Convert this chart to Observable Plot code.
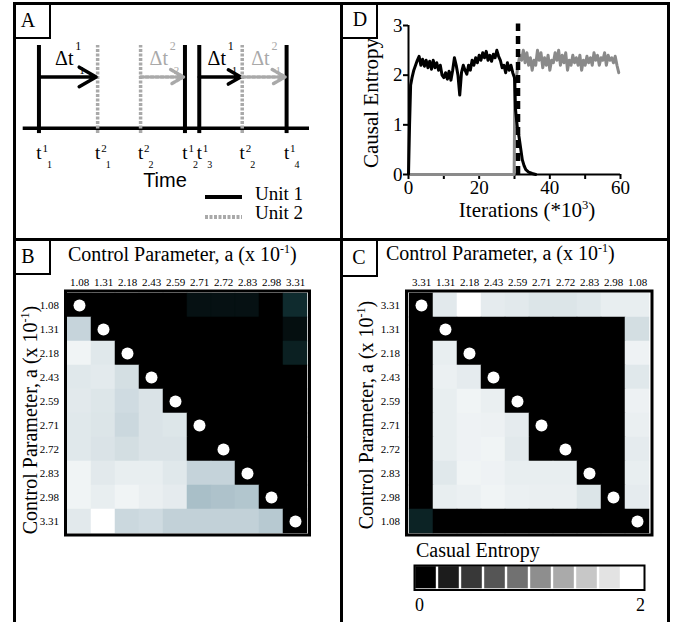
<!DOCTYPE html>
<html><head><meta charset="utf-8">
<script src="https://cdn.jsdelivr.net/npm/d3@7"></script>
<script src="https://cdn.jsdelivr.net/npm/@observablehq/plot@0.6"></script>
<style>
body{margin:0;background:#fff;}
#fig{position:relative;width:673px;height:622px;overflow:hidden;background:#fff;font-family:"Liberation Serif",serif;color:#000;}
.txt{position:absolute;white-space:nowrap;line-height:1;}
.ln{position:absolute;background:#000;}
.box{position:absolute;border:2px solid #000;box-sizing:border-box;}
sup{font-size:0.6em;vertical-align:super;line-height:0;}
</style></head><body><div id="fig"></div>
<script>
// ---------- DATA ----------
// Panel A: spike times (arbitrary time units)
const unit1Spikes = [0.55, 5.65, 6.15, 9.2];
const unit1Sub = ["1", "2", "3", "4"];
const unit2Spikes = [2.6, 4.1, 7.65];
const unit2Sub = ["1", "2", "2"];
const intervalFrom = [0.55, 4.1, 6.15, 7.65];
const intervalTo = [2.6, 5.65, 7.65, 9.2];
const intervalUnit = [1, 2, 1, 2];
const intervalSup = ["1", "2", "1", "2"];
const intervalSub = ["1", "2", "1", "1"];
const unitNames = ["Unit 1", "Unit 2"];

// Panel D: causal entropy traces [iteration (*10^3), entropy]
const unit1Trace = [[0,0],[0.3,1.0],[0.6,1.8],[1,1.95],[1.5,2.1],[2,2.2],[2.5,2.3],[3,2.38],[3.5,2.2],[4,2.32],[4.5,2.18],[5,2.3],[5.5,2.15],[6,2.28],[6.5,2.12],[7,2.3],[7.5,2.15],[8,2.25],[8.5,2.1],[9,2.2],[9.5,2.0],[10,1.95],[10.5,2.05],[11,1.92],[11.5,2.08],[12,1.9],[12.5,2.1],[13,2.35],[13.5,2.2],[14,2.0],[14.5,1.6],[15,2.05],[15.5,2.2],[16,2.1],[16.5,2.02],[17,2.2],[17.5,2.1],[18,2.3],[18.5,2.2],[19,2.35],[19.5,2.25],[20,2.4],[20.5,2.3],[21,2.45],[21.5,2.35],[22,2.48],[22.5,2.3],[23,2.4],[23.5,2.28],[24,2.42],[24.5,2.35],[25,2.5],[25.5,2.38],[26,2.3],[26.5,2.15],[27,2.2],[27.5,2.05],[28,2.25],[28.5,2.1],[29,2.2],[29.5,2.05],[30,1.95],[30.3,1.3],[30.8,0.95],[31.3,0.75],[31.7,0.55],[32.2,0.3],[32.7,0.18],[33.2,0.1],[34,0.05],[35,0.02],[36,0]];
const unit2Trace = [[0,0],[29.9,0],[30.1,1.8],[30.6,2.0],[31,2.2],[31.5,2.4],[32,2.3],[32.5,2.5],[33,2.25],[33.5,2.45],[34,2.2],[34.5,2.35],[35,2.1],[35.5,2.3],[36,2.2],[36.5,2.5],[37,2.3],[37.5,2.45],[38,2.15],[38.5,2.35],[39,2.2],[39.5,2.4],[40,2.1],[40.5,2.3],[41,2.25],[41.5,2.45],[42,2.3],[42.5,2.5],[43,2.2],[43.5,2.4],[44,2.25],[44.5,2.45],[45,2.1],[45.5,2.3],[46,2.2],[46.5,2.4],[47,2.25],[47.5,2.35],[48,2.2],[48.5,2.4],[49,2.1],[49.5,2.3],[50,2.2],[50.5,2.38],[51,2.25],[51.5,2.35],[52,2.2],[52.5,2.45],[53,2.3],[53.5,2.4],[54,2.2],[54.5,2.35],[55,2.3],[55.5,2.45],[56,2.2],[56.5,2.4],[57,2.3],[57.5,2.35],[58,2.25],[58.5,2.38],[59,2.2],[59.5,2.05]];
const switchIteration = 31;
const iterTicks = [0, 10, 20, 30, 40, 50, 60];
const iterTickLabels = [0, 20, 40, 60];
const entropyTicks = [0, 1, 2, 3];

// Panel B: causal entropy matrix (rows x cols)
const paramsB = ["1.08","1.31","2.18","2.43","2.59","2.71","2.72","2.83","2.98","3.31"];
const entropyB = [
  [0,    0,    0,    0,    0,    0.12, 0.12, 0.12, 0,    0.3 ],
  [1.63, 0,    0,    0,    0,    0,    0,    0,    0,    0.1 ],
  [1.9,  1.8,  0,    0,    0,    0,    0,    0,    0,    0.22],
  [1.8,  1.82, 1.72, 0,    0,    0,    0,    0,    0,    0   ],
  [1.81, 1.78, 1.69, 1.76, 0,    0,    0,    0,    0,    0   ],
  [1.8,  1.77, 1.66, 1.76, 1.78, 0,    0,    0,    0,    0   ],
  [1.8,  1.76, 1.71, 1.76, 1.76, 0,    0,    0,    0,    0   ],
  [1.9,  1.81, 1.85, 1.85, 1.8,  1.62, 1.62, 0,    0,    0   ],
  [1.9,  1.85, 1.9,  1.86, 1.83, 1.44, 1.47, 1.5,  0,    0   ],
  [1.81, 2.0,  1.66, 1.69, 1.6,  1.6,  1.6,  1.6,  1.53, 0   ]
];
// Panel C
const paramsC = ["3.31","1.31","2.18","2.43","2.59","2.71","2.72","2.83","2.98","1.08"];
const entropyC = [
  [0,    1.81, 2.0,  1.83, 1.81, 1.77, 1.77, 1.8,  1.85, 1.85],
  [0,    0,    0,    0,    0,    0,    0,    0,    0,    1.71],
  [0,    1.85, 0,    0,    0,    0,    0,    0,    0,    1.89],
  [0,    1.87, 1.83, 0,    0,    0,    0,    0,    0,    1.8 ],
  [0,    1.85, 1.9,  1.86, 0,    0,    0,    0,    0,    1.88],
  [0,    1.85, 1.89, 1.88, 1.83, 0,    0,    0,    0,    1.86],
  [0,    1.85, 1.89, 1.9,  1.81, 0,    0,    0,    0,    1.83],
  [0,    1.8,  1.9,  1.89, 1.85, 1.85, 1.85, 0,    0,    1.85],
  [0,    1.85, 1.87, 1.9,  1.87, 1.86, 1.86, 1.77, 0,    1.83],
  [0.24, 0,    0,    0,    0,    0,    0,    0,    0,    0   ]
];
const colorbarLevels = [0, 0.22, 0.44, 0.67, 0.89, 1.11, 1.33, 1.56, 1.78, 2];
const colorbarTickLabels = ["0", "2"];

// ---------- HELPERS ----------
const fig = document.getElementById("fig");
const SERIF = "Liberation Serif";
const baseStyle = {background: "transparent", overflow: "visible", fontFamily: SERIF, color: "black"};
function put(el, left, top) {
  el.style.position = "absolute"; el.style.left = left + "px"; el.style.top = top + "px";
  fig.appendChild(el); return el;
}
function addText(html, x, baseline, size, anchor = "start", family = SERIF) {
  const d = document.createElement("div");
  d.className = "txt"; d.innerHTML = html;
  d.style.fontSize = size + "px"; d.style.fontFamily = family;
  d.style.left = x + "px"; d.style.top = (baseline - 0.84 * size) + "px";
  if (anchor === "middle") d.style.transform = "translateX(-50%)";
  if (anchor === "end") d.style.transform = "translateX(-100%)";
  fig.appendChild(d);
}
function addRotated(html, cx, cy, size) {
  const d = document.createElement("div");
  d.className = "txt"; d.innerHTML = html;
  d.style.fontSize = size + "px";
  d.style.left = cx + "px"; d.style.top = cy + "px";
  d.style.transform = "translate(-50%,-50%) rotate(-90deg)";
  fig.appendChild(d);
}
function addLine(l, t, w, h) {
  const d = document.createElement("div"); d.className = "ln";
  d.style.left = l + "px"; d.style.top = t + "px"; d.style.width = w + "px"; d.style.height = h + "px";
  fig.appendChild(d);
}
function addBox(l, t, w, h, label, cx, baseline) {
  const d = document.createElement("div"); d.className = "box";
  d.style.left = l + "px"; d.style.top = t + "px"; d.style.width = w + "px"; d.style.height = h + "px";
  fig.appendChild(d);
  addText(label, cx, baseline, 20, "middle");
}

// ---------- PANEL A ----------
const gray = "#a9a9a9";
const spikes = unit1Spikes.map((t, i) => ({t, unit: 1, sup: "1", sub: unit1Sub[i]}))
  .concat(unit2Spikes.map((t, i) => ({t, unit: 2, sup: "2", sub: unit2Sub[i]})));
const intervals = intervalFrom.map((f, i) => ({from: f, to: intervalTo[i], mid: (f + intervalTo[i]) / 2,
  unit: intervalUnit[i], sup: intervalSup[i], sub: intervalSub[i]}));
const arrowY = 0.62;
const intervalMarks = (u, color, dash) => {
  const data = intervals.filter(d => d.unit === u);
  return [
    Plot.arrow(data, {x1: "from", x2: "to", y1: arrowY, y2: arrowY, stroke: color, strokeWidth: 3.5,
      headLength: 9, insetEnd: 1.5, strokeDasharray: dash}),
    Plot.text(data, {x: "mid", y: arrowY, text: () => "\u0394t", dx: -4, dy: -11.7, lineAnchor: "bottom", fontSize: 20, fill: color}),
    Plot.text(data, {x: "mid", y: arrowY, text: "sup", dx: 7, dy: -26.5, lineAnchor: "bottom", textAnchor: "start", fontSize: 12, fill: color}),
    Plot.text(data, {x: "mid", y: arrowY, text: "sub", dx: 11, dy: -2.5, lineAnchor: "bottom", textAnchor: "start", fontSize: 11, fill: color})
  ];
};
const plotA = Plot.plot({
  width: 322, height: 232, marginLeft: 6.7, marginRight: 29, marginTop: 40, marginBottom: 109.3,
  x: {domain: [0, 10], axis: null}, y: {domain: [0, 1], axis: null},
  style: baseStyle,
  marks: [
    Plot.ruleY([0], {strokeWidth: 3.5}),
    Plot.ruleX(spikes.filter(d => d.unit === 2), {x: "t", y1: -0.065, y2: 1, stroke: gray, strokeWidth: 3.5, strokeDasharray: "3,1.5"}),
    Plot.ruleX(spikes.filter(d => d.unit === 1), {x: "t", y1: -0.065, y2: 1, stroke: "black", strokeWidth: 4}),
    ...intervalMarks(1, "black", null),
    ...intervalMarks(2, gray, "3,2"),
    Plot.text(spikes, {x: "t", y: 0, text: () => "t", dy: 30.5, lineAnchor: "bottom", fontSize: 19}),
    Plot.text(spikes, {x: "t", y: 0, text: "sup", dx: 3.5, dy: 23.5, lineAnchor: "bottom", textAnchor: "start", fontSize: 11}),
    Plot.text(spikes, {x: "t", y: 0, text: "sub", dx: 8, dy: 39.5, lineAnchor: "bottom", textAnchor: "start", fontSize: 10})
  ]
});
put(plotA, 16, 5);
addText("Time", 165, 187, 20, "middle", "Liberation Sans");
// legend
const lg = document.createElementNS("http://www.w3.org/2000/svg", "svg");
lg.setAttribute("width", 50); lg.setAttribute("height", 35);
lg.innerHTML = `<line x1="5" x2="42" y1="7" y2="7" stroke="#000" stroke-width="4"/>
<line x1="5" x2="42" y1="27" y2="27" stroke="${gray}" stroke-width="4" stroke-dasharray="3,1.5"/>`;
put(lg, 200, 190);
addText(unitNames[0], 255, 200, 19);
addText(unitNames[1], 255, 219, 19);

// ---------- PANEL D ----------
const plotD = Plot.plot({
  width: 325, height: 232, marginLeft: 65, marginRight: 48, marginTop: 20, marginBottom: 63,
  x: {domain: [0, 60]}, y: {domain: [0, 3]},
  style: baseStyle,
  marks: [
    Plot.axisX({ticks: iterTicks, tickFormat: d => iterTickLabels.includes(d) ? String(d) : "", tickSize: 5, tickPadding: 1, fontSize: 19, strokeWidth: 2, label: null}),
    Plot.axisY({ticks: entropyTicks, tickFormat: d => String(d), tickSize: 5, tickPadding: 1, fontSize: 19, strokeWidth: 2, label: null}),
    Plot.ruleY([0], {strokeWidth: 2}),
    Plot.ruleX([0], {strokeWidth: 2}),
    Plot.line(unit2Trace, {x: d => d[0], y: d => d[1], stroke: "#8a8a8a", strokeWidth: 3}),
    Plot.line(unit1Trace, {x: d => d[0], y: d => d[1], stroke: "black", strokeWidth: 3}),
    Plot.ruleX([switchIteration], {y1: 0, y2: 3.03, strokeWidth: 4.5, strokeDasharray: "8,5"})
  ]
});
put(plotD, 343, 5);
addRotated("Causal Entropy", 371, 103, 21);
addText("Iterations (*10<sup>3</sup>)", 527, 218, 21, "middle");

// ---------- HEATMAPS ----------
const heatColor = {type: "linear", domain: [0, 0.4, 1.4, 2], range: ["#000000", "#143a3e", "#a3bac4", "#ffffff"]};
function heatmap(params, matrix, opts) {
  const cells = [];
  matrix.forEach((row, i) => row.forEach((v, j) => cells.push({row: params[i], col: params[j], v})));
  return Plot.plot({
    ...opts,
    x: {domain: params, padding: 0}, y: {domain: params, padding: 0},
    color: heatColor,
    style: baseStyle,
    marks: [
      Plot.cell(cells, {x: "col", y: "row", fill: "v", stroke: "v", strokeWidth: 0.5}),
      Plot.dot(params, {x: d => d, y: d => d, r: 6, fill: "white"}),
      Plot.frame({strokeWidth: 3, inset: -1.5}),
      Plot.axisX({anchor: "top", tickSize: 0, tickPadding: 7, fontSize: 11, label: null}),
      Plot.axisY({anchor: "left", tickSize: 0, tickPadding: 8, fontSize: 11, label: null})
    ]
  });
}
put(heatmap(paramsB, entropyB, {width: 320, height: 378, marginLeft: 50.5, marginRight: 28.5, marginTop: 51, marginBottom: 86}), 16, 241);
put(heatmap(paramsC, entropyC, {width: 325, height: 300, marginLeft: 64.5, marginRight: 18, marginTop: 51, marginBottom: 8}), 343, 241);

const titleHTML = "Control Parameter, a (x 10<sup>-1</sup>)";
addText(titleHTML, 68, 261, 20);
addText(titleHTML, 386, 260, 20);
addRotated(titleHTML, 30, 420, 20);
addRotated(titleHTML, 366, 415, 20);

// colorbar
const plotBar = Plot.plot({
  width: 230, height: 24.5, margin: 0,
  x: {domain: d3.range(colorbarLevels.length), padding: 0, axis: null},
  color: {type: "linear", domain: [0, 2], range: ["black", "white"]},
  style: baseStyle,
  marks: [
    Plot.cell(colorbarLevels, {x: (d, i) => i, fill: d => d, inset: 1.2}),
    Plot.frame({strokeWidth: 2})
  ]
});
put(plotBar, 414, 565);
addText("Casual Entropy", 416, 557, 20);
addText(colorbarTickLabels[0], 415, 611, 18);
addText(colorbarTickLabels[1], 645, 611, 18, "end");

// ---------- FRAME ----------
addLine(13, 2, 3, 620);
addLine(13, 2, 657, 3);
addLine(667, 2, 3, 620);
addLine(340, 2, 2.5, 620);
addLine(13, 238, 657, 2.5);
addBox(13, 2, 38, 37, "A", 28, 27);
addBox(340, 2, 37.5, 37, "D", 360, 26);
addBox(13, 238, 38, 37, "B", 28, 263);
addBox(340, 238, 38, 39, "C", 359, 264);
</script></body></html>
